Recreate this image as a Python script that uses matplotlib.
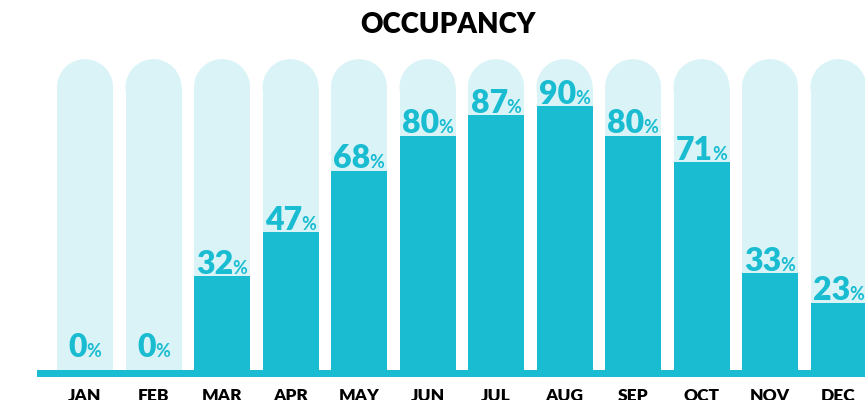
import matplotlib
matplotlib.use('Agg')
import matplotlib.pyplot as plt
from matplotlib.patches import Rectangle, Ellipse
from matplotlib.transforms import offset_copy

months = ["JAN", "FEB", "MAR", "APR", "MAY", "JUN", "JUL", "AUG", "SEP", "OCT", "NOV", "DEC"]
occupancy = [0, 0, 32, 47, 68, 80, 87, 90, 80, 71, 33, 23]

teal = '#19bcd0'
light = '#d9f3f7'
plt.rcParams['font.family'] = ['Lato', 'DejaVu Sans']

fig = plt.figure(figsize=(8.65, 4), dpi=100)
ax = fig.add_axes([0, 0, 1, 1])
ax.set_xlim(-85 / 68.5, (865 - 85) / 68.5)
ax.set_ylim(-30 / 2.93, 370 / 2.93)
ax.axis('off')

bar_w = 56 / 68.5
cap_top = 106.1           # top of background capsule (in % units)
r_y = 28 / 2.93           # radius of rounded top in y-units

for i, v in enumerate(occupancy):
    # background capsule
    ax.add_patch(Rectangle((i - bar_w / 2, 0), bar_w, cap_top - r_y, color=light, lw=0, zorder=1))
    ax.add_patch(Ellipse((i, cap_top - r_y), bar_w, 2 * r_y, color=light, lw=0, zorder=1))

ax.bar(range(len(months)), occupancy, bar_w, color=teal, zorder=2)

# baseline
ax.add_patch(Rectangle((-0.70, -7 / 2.93), 13, 7 / 2.93, color=teal, lw=0, zorder=3))

fig.canvas.draw()
renderer = fig.canvas.get_renderer()
for i, v in enumerate(occupancy):
    y = max(v, 3.5) + 0.8
    num = ax.text(i, y, str(v), fontsize=23, fontweight='heavy', color=teal, ha='left', va='baseline', zorder=4)
    pct = ax.text(i, y, '%', fontsize=13, fontweight='bold', color=teal, ha='left', va='baseline', zorder=4)
    w1 = num.get_window_extent(renderer).width
    w2 = pct.get_window_extent(renderer).width
    total = w1 + w2 - 1
    num.set_transform(offset_copy(ax.transData, fig=fig, x=-total / 2, y=0, units='dots'))
    pct.set_transform(offset_copy(ax.transData, fig=fig, x=-total / 2 + w1 - 1, y=0, units='dots'))

for i, m in enumerate(months):
    ax.text(i, -6.0, m, fontsize=12.5, fontweight='heavy', color='black', ha='center', va='top')

fig.text(0.518, 1 - 25 / 400, 'OCCUPANCY', fontsize=20, fontweight='heavy', color='black', ha='center', va='center')

fig.savefig('out.png', dpi=100)
